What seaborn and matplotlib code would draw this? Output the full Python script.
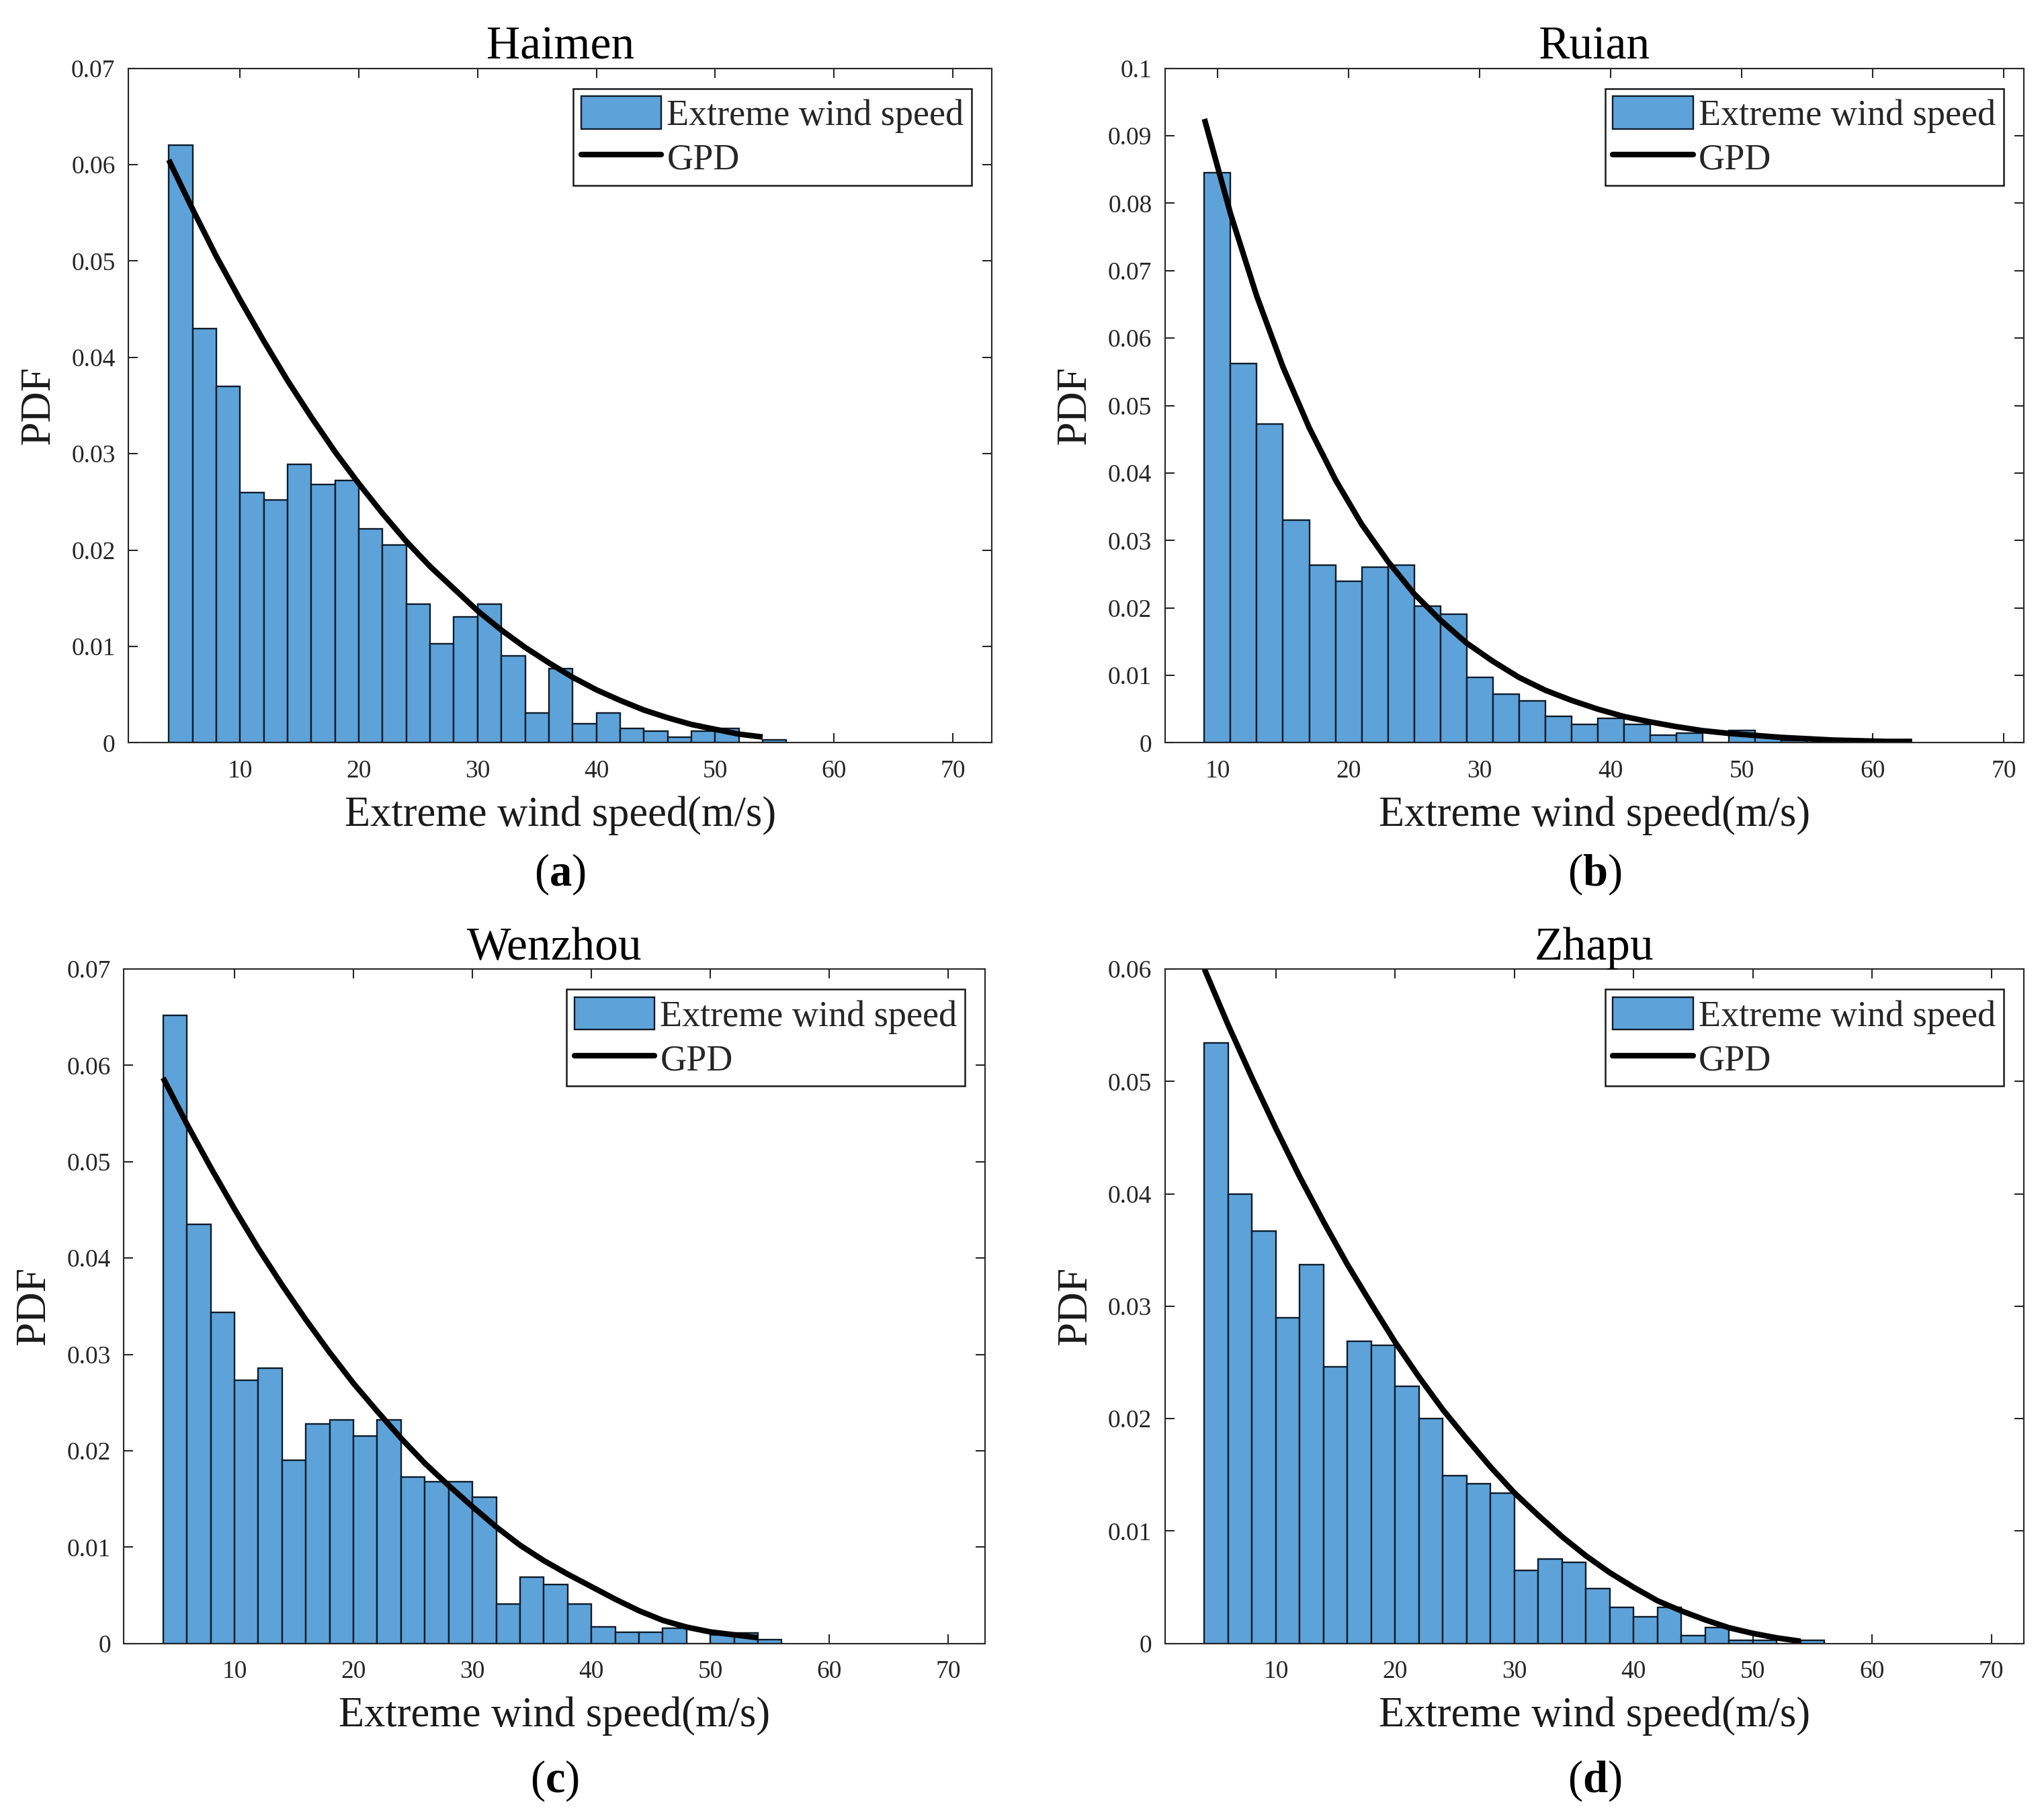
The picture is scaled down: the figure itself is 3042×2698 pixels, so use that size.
import numpy as np
import pandas as pd
import seaborn as sns
import matplotlib
matplotlib.use("Agg")
import matplotlib.pyplot as plt
from matplotlib.patches import Patch
from matplotlib.lines import Line2D
from matplotlib.ticker import FuncFormatter

# ---- data (bin width 2 m/s) ----
stations = ['Haimen', 'Ruian', 'Wenzhou', 'Zhapu']
panel_tags = ['a', 'b', 'c', 'd']

haimen_start = 4
haimen_pdf = [0.0620, 0.0430, 0.0370, 0.0260, 0.0252, 0.0289, 0.0268, 0.0272, 0.0222, 0.0205,
              0.0144, 0.0103, 0.0131, 0.0144, 0.0090, 0.0031, 0.0077, 0.0020, 0.0031, 0.0015,
              0.0012, 0.0006, 0.0012, 0.0015, 0.0, 0.0003]
haimen_gpd_x = list(range(4, 55, 2))
haimen_gpd = [0.0605, 0.0554, 0.0505, 0.0460, 0.0417, 0.0376, 0.0338, 0.0302, 0.0269, 0.0238,
              0.0209, 0.0183, 0.0160, 0.0137, 0.0117, 0.0099, 0.0083, 0.0068, 0.0055, 0.0044,
              0.0034, 0.0026, 0.0019, 0.0014, 0.0009, 0.0006]

ruian_start = 9
ruian_pdf = [0.0845, 0.0562, 0.0473, 0.0330, 0.0263, 0.0239, 0.0260, 0.0263, 0.0203, 0.0191,
             0.0097, 0.0072, 0.0062, 0.0039, 0.0027, 0.0036, 0.0027, 0.0011, 0.0014, 0.0,
             0.0018, 0.0008, 0.0003]
ruian_gpd_x = list(range(9, 64, 2))
ruian_gpd = [0.0925, 0.0784, 0.0662, 0.0557, 0.0467, 0.0390, 0.0324, 0.0269, 0.0221, 0.0182,
             0.0148, 0.0121, 0.0097, 0.0078, 0.0063, 0.0050, 0.0039, 0.0031, 0.0024, 0.0018,
             0.0014, 0.0011, 0.0008, 0.0006, 0.0004, 0.0003, 0.0002, 0.0002]

wenzhou_start = 4
wenzhou_pdf = [0.0652, 0.0435, 0.0344, 0.0273, 0.0286, 0.0190, 0.0228, 0.0232, 0.0215, 0.0232,
               0.0173, 0.0168, 0.0168, 0.0152, 0.0041, 0.0069, 0.0061, 0.0041, 0.0017, 0.0012,
               0.0012, 0.0016, 0.0, 0.0009, 0.0011, 0.0004]
wenzhou_gpd_x = list(range(4, 55, 2))
wenzhou_gpd = [0.0587, 0.0539, 0.0494, 0.0451, 0.0410, 0.0372, 0.0336, 0.0302, 0.0270, 0.0241,
               0.0213, 0.0187, 0.0164, 0.0142, 0.0121, 0.0102, 0.0086, 0.0072, 0.0059, 0.0046,
               0.0034, 0.0024, 0.0017, 0.0012, 0.0009, 0.0006]

zhapu_start = 4
zhapu_pdf = [0.0534, 0.0400, 0.0367, 0.0290, 0.0337, 0.0246, 0.0269, 0.0265, 0.0229, 0.0200,
             0.0149, 0.0142, 0.0134, 0.0065, 0.0075, 0.0072, 0.0049, 0.0032, 0.0024, 0.0032,
             0.0007, 0.0014, 0.0003, 0.0003, 0.0, 0.0003]
zhapu_gpd_x = list(range(4, 55, 2))
zhapu_gpd = [0.0600, 0.0550, 0.0503, 0.0458, 0.0415, 0.0375, 0.0337, 0.0302, 0.0268, 0.0237,
             0.0208, 0.0182, 0.0157, 0.0134, 0.0114, 0.0095, 0.0078, 0.0063, 0.0050, 0.0038,
             0.0029, 0.0021, 0.0014, 0.0009, 0.0005, 0.0002]

y_max = [0.07, 0.1, 0.07, 0.06]
x_ticks = [10, 20, 30, 40, 50, 60, 70]

starts = [haimen_start, ruian_start, wenzhou_start, zhapu_start]
pdfs = [haimen_pdf, ruian_pdf, wenzhou_pdf, zhapu_pdf]
gpd_xs = [haimen_gpd_x, ruian_gpd_x, wenzhou_gpd_x, zhapu_gpd_x]
gpds = [haimen_gpd, ruian_gpd, wenzhou_gpd, zhapu_gpd]

# ---- style ----
sns.set_theme(style='white')
plt.rcParams['font.family'] = ['Liberation Serif', 'DejaVu Serif']
plt.rcParams['mathtext.fontset'] = 'custom'
plt.rcParams['mathtext.rm'] = 'Liberation Serif'
plt.rcParams['mathtext.bf'] = 'Liberation Serif:bold'

bar_color = '#5DA3D9'
edge_color = '#0d1b2a'
axis_color = '#262626'

fig = plt.figure(figsize=(30.42, 26.98), dpi=100)

# axes boxes in figure fractions: left, bottom, width, height
boxes = [
    [0.0628, 0.5903, 0.4225, 0.3720],
    [0.5700, 0.5903, 0.4200, 0.3720],
    [0.0606, 0.0935, 0.4214, 0.3720],
    [0.5700, 0.0935, 0.4200, 0.3720],
]
x_limits = [(0.6, 73.3), (6.0, 71.5), (0.7, 73.1), (0.7, 72.7)]
tag_y = [0.5178, 0.5178, 0.0178, 0.0178]

for i in range(4):
    ax = fig.add_axes(boxes[i])
    start = starts[i]
    pdf = pdfs[i]
    n_bins = len(pdf)
    centers = start + 1 + 2 * np.arange(n_bins)
    df = pd.DataFrame({'speed': centers, 'pdf': pdf})

    sns.histplot(data=df, x='speed', weights='pdf', binwidth=2,
                 binrange=(start, start + 2 * n_bins), stat='count',
                 color=bar_color, edgecolor=edge_color, linewidth=1.7, alpha=1.0, ax=ax)
    sns.lineplot(x=gpd_xs[i], y=gpds[i], color='black', linewidth=6, ax=ax,
                 solid_capstyle='butt')

    ax.set_xlim(*x_limits[i])
    ax.set_ylim(0, y_max[i])
    ax.set_xticks(x_ticks)
    ax.set_yticks(np.arange(0, y_max[i] + 1e-9, 0.01))
    ax.yaxis.set_major_formatter(FuncFormatter(lambda v, p: '%g' % round(v, 4)))

    for sp in ax.spines.values():
        sp.set_visible(True)
        sp.set_color(axis_color)
        sp.set_linewidth(1.5)
    ax.tick_params(axis='both', which='major', direction='in', length=10, width=1.5,
                   top=True, right=True, bottom=True, left=True, colors=axis_color,
                   labelsize=27)
    ax.tick_params(axis='x', pad=18)
    ax.tick_params(axis='y', pad=14)

    ax.set_title(stations[i], fontsize=50, color='black', pad=10)
    ax.set_xlabel('Extreme wind speed(m/s)', fontsize=45, color='#1a1a1a', labelpad=14)
    ax.set_ylabel('PDF', fontsize=46, color='#1a1a1a', labelpad=14)

    handles = [Patch(facecolor=bar_color, edgecolor=edge_color, linewidth=1.7),
               Line2D([0], [0], color='black', linewidth=6)]
    leg = ax.legend(handles, ['Extreme wind speed', 'GPD'], loc='upper right',
                    fontsize=39, frameon=True, fancybox=False, shadow=False,
                    handlelength=2.2, handleheight=1.0, handletextpad=0.15,
                    labelspacing=0.2, borderpad=0.22, borderaxespad=0.55)
    leg.get_frame().set_edgecolor('#1a1a1a')
    leg.get_frame().set_linewidth(1.8)
    leg.get_frame().set_alpha(1.0)

    cx = boxes[i][0] + boxes[i][2] / 2
    fig.text(cx, tag_y[i], '(' + r'$\mathbf{' + panel_tags[i] + '}$' + ')',
             fontsize=48, ha='center', va='center', color='black')

fig.savefig('out.png', dpi=100, facecolor='white')
